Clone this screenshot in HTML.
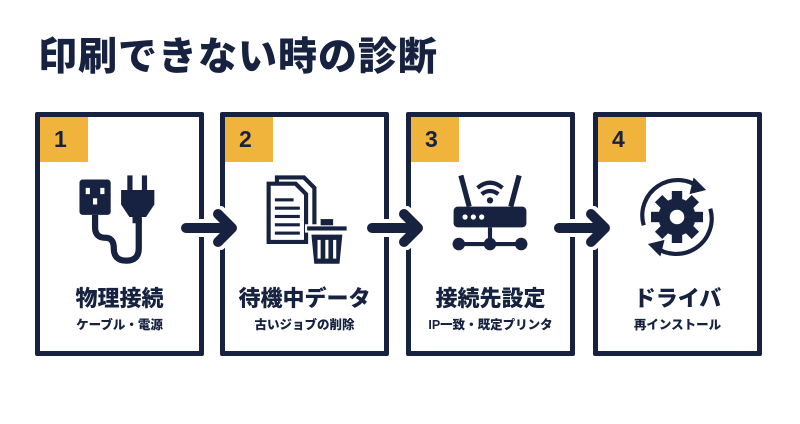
<!DOCTYPE html>
<html><head><meta charset="utf-8"><style>
body{margin:0;width:800px;height:424px;background:#fff;overflow:hidden;position:relative;font-family:"Liberation Sans","Noto Sans CJK JP",sans-serif;color:#16223f}
.t{position:absolute;left:38px;top:26px;font-size:39px;font-weight:900;letter-spacing:1px}
.box{position:absolute;top:112px;width:159px;height:234px;border:5px solid #16223f;border-radius:2px;background:#fff}
.b{position:absolute;left:0;top:0;width:48px;height:45px;background:#f0b43c;font-size:23px;font-weight:900;line-height:45px;text-indent:14px}
.h{position:absolute;left:0;right:0;top:164px;text-align:center;font-size:22px;font-weight:900}
.s{position:absolute;left:0;right:0;top:197px;text-align:center;font-size:12.5px;font-weight:900}
svg.i{position:absolute;left:27px;top:48px}
svg.a{position:absolute;top:206px}
</style></head><body>
<div class="t">印刷できない時の診断</div>

<div class="box" style="left:35px"><div class="b">1</div>
<svg class="i" width="104" height="104" viewBox="0 0 100 100" fill="#16223f">
<rect x="12" y="14" width="30" height="34" rx="3"/>
<rect x="18" y="22" width="4" height="6" fill="#fff"/><rect x="32" y="22" width="4" height="6" fill="#fff"/><rect x="25" y="32" width="4" height="6" fill="#fff"/>
<rect x="58" y="10" width="5" height="14"/><rect x="72" y="10" width="5" height="14"/>
<path d="M52 24h32v14l-8 12h-16l-8-12z"/><rect x="63" y="48" width="9" height="8"/>
<path d="M27 48v12q0 10 10 10q8 0 8 10q0 12 12 12q12 0 12-12v-26" fill="none" stroke="#16223f" stroke-width="6"/>
</svg>
<div class="h">物理接続</div><div class="s">ケーブル・電源</div></div>

<div class="box" style="left:220px"><div class="b">2</div>
<svg class="i" width="104" height="104" viewBox="0 0 100 100" fill="#16223f">
<path d="M24 12h26l10 10v40h-36z" fill="none" stroke="#16223f" stroke-width="4"/>
<path d="M16 18h26l10 10v46h-36z" fill="#fff" stroke="#16223f" stroke-width="4"/>
<rect x="22" y="32" width="18" height="3"/><rect x="22" y="40" width="24" height="3"/><rect x="22" y="48" width="24" height="3"/><rect x="22" y="56" width="24" height="3"/><rect x="22" y="64" width="24" height="3"/>
<rect x="52" y="58" width="40" height="6" fill="#16223f" stroke="#fff" stroke-width="2"/><rect x="66" y="52" width="12" height="6"/>
<path d="M56 66h32l-3 30h-26z" stroke="#fff" stroke-width="2"/>
<rect x="63" y="72" width="3" height="18" fill="#fff"/><rect x="70.5" y="72" width="3" height="18" fill="#fff"/><rect x="78" y="72" width="3" height="18" fill="#fff"/>
</svg>
<div class="h">待機中データ</div><div class="s">古いジョブの削除</div></div>

<div class="box" style="left:406px"><div class="b">3</div>
<svg class="i" width="104" height="104" viewBox="0 0 100 100" fill="#16223f">
<path d="M22 10l8 30M78 10l-8 30" stroke="#16223f" stroke-width="5"/>
<path d="M38 22q12-10 24 0M42 28q8-6 16 0" fill="none" stroke="#16223f" stroke-width="4"/><circle cx="50" cy="34" r="3"/>
<rect x="15" y="40" width="70" height="20" rx="4"/>
<circle cx="26" cy="50" r="2.5" fill="#fff"/><circle cx="34" cy="50" r="2.5" fill="#fff"/><circle cx="42" cy="50" r="2.5" fill="#fff"/>
<path d="M50 60v16M22 76h56" stroke="#16223f" stroke-width="4"/>
<circle cx="20" cy="76" r="6"/><circle cx="50" cy="76" r="6"/><circle cx="80" cy="76" r="6"/>
</svg>
<div class="h">接続先設定</div><div class="s">IP一致・既定プリンタ</div></div>

<div class="box" style="left:593px"><div class="b">4</div>
<svg class="i" width="104" height="104" viewBox="0 0 100 100" fill="#16223f">
<path d="M18 58A34 34 0 0 1 72 22M82 42A34 34 0 0 1 28 78" fill="none" stroke="#16223f" stroke-width="4"/>
<path d="M66 12l12 12-16 4z"/><path d="M34 88l-12-12 16-4z"/>
<g transform="translate(50 50)"><circle r="18"/>
<g><rect x="-5" y="-25" width="10" height="10"/><rect x="-5" y="15" width="10" height="10"/><rect x="-25" y="-5" width="10" height="10"/><rect x="15" y="-5" width="10" height="10"/></g>
<g transform="rotate(45)"><rect x="-5" y="-25" width="10" height="10"/><rect x="-5" y="15" width="10" height="10"/><rect x="-25" y="-5" width="10" height="10"/><rect x="15" y="-5" width="10" height="10"/></g>
<circle r="7" fill="#fff"/></g>
</svg>
<div class="h">ドライバ</div><div class="s">再インストール</div></div>

<svg class="a" style="left:178px" width="66" height="44" viewBox="0 0 66 44"><g stroke="#fff" stroke-width="18" stroke-linecap="round" stroke-linejoin="round" fill="none"><path d="M8 22h46M40 8l14 14-14 14"/></g><g stroke="#16223f" stroke-width="10" stroke-linecap="round" stroke-linejoin="round" fill="none"><path d="M8 22h44M40 8l14 14-14 14"/></g></svg>
<svg class="a" style="left:364px" width="66" height="44" viewBox="0 0 66 44"><g stroke="#fff" stroke-width="18" stroke-linecap="round" stroke-linejoin="round" fill="none"><path d="M8 22h46M40 8l14 14-14 14"/></g><g stroke="#16223f" stroke-width="10" stroke-linecap="round" stroke-linejoin="round" fill="none"><path d="M8 22h44M40 8l14 14-14 14"/></g></svg>
<svg class="a" style="left:551px" width="66" height="44" viewBox="0 0 66 44"><g stroke="#fff" stroke-width="18" stroke-linecap="round" stroke-linejoin="round" fill="none"><path d="M8 22h46M40 8l14 14-14 14"/></g><g stroke="#16223f" stroke-width="10" stroke-linecap="round" stroke-linejoin="round" fill="none"><path d="M8 22h44M40 8l14 14-14 14"/></g></svg>
</body></html>
